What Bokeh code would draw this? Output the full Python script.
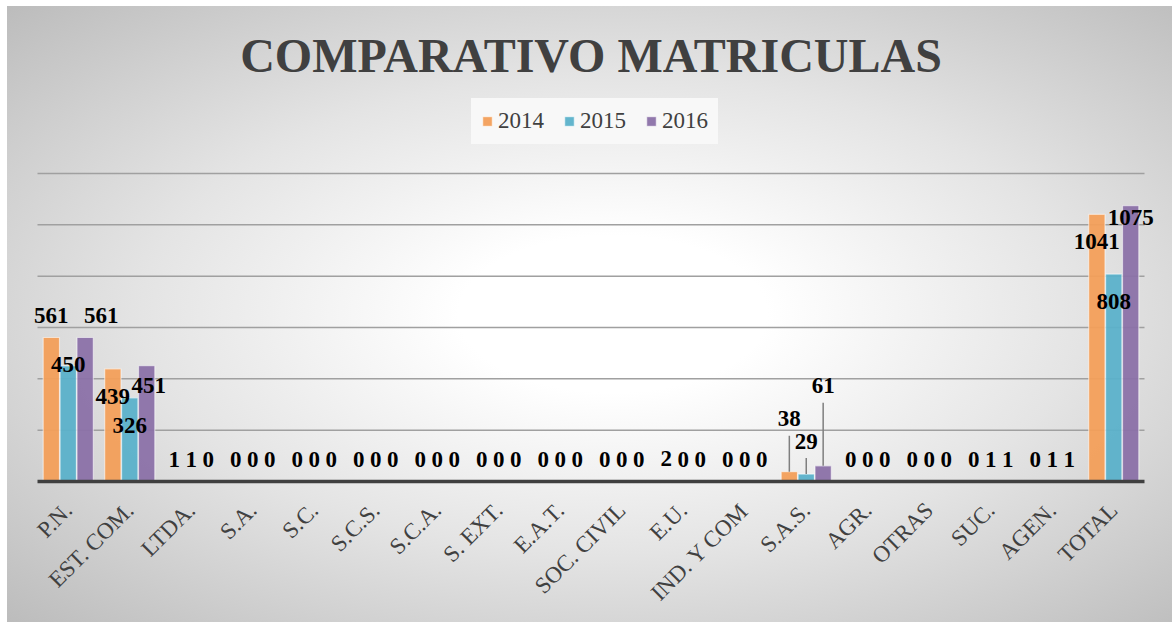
from math import pi
from bokeh.plotting import figure
from bokeh.models import (ColumnDataSource, FactorRange, Range1d,
                          LabelSet, Label, Legend, LegendItem)
from bokeh.transform import dodge
from bokeh.embed import file_html
from bokeh.resources import INLINE

categories = ["P.N.", "EST. COM.", "LTDA.", "S.A.", "S.C.", "S.C.S.", "S.C.A.",
              "S. EXT.", "E.A.T.", "SOC. CIVIL", "E.U.", "IND. Y COM", "S.A.S.",
              "AGR.", "OTRAS", "SUC.", "AGEN.", "TOTAL"]
years = ["2014", "2015", "2016"]
v2014 = [561, 439, 1, 0, 0, 0, 0, 0, 0, 0, 2, 0, 38, 0, 0, 0, 0, 1041]
v2015 = [450, 326, 1, 0, 0, 0, 0, 0, 0, 0, 0, 0, 29, 0, 0, 1, 1, 808]
v2016 = [561, 451, 0, 0, 0, 0, 0, 0, 0, 0, 0, 0, 61, 0, 0, 1, 1, 1075]
grid_ticks = [200, 400, 600, 800, 1000, 1200]
title_text = "COMPARATIVO MATRICULAS"

# styling / layout
colors = ["#F39F5A", "#5BB1CA", "#8B71A8"]
offsets = [-0.275, 0.0, 0.275]
BAR_W = 0.265
W, H = 1172, 622
CAT_PX = 61.5                    # width of one category in pixels
LEFT, SIDE_PAD = 9, 28           # frame starts at x=9, plot area padded 28px each side
BASE_Y = 481                     # pixel row of the zero line
BELOW = 3                        # frame extends 3px below the zero line
AXIS_SPAN_PX = 308               # pixels between 0 and 1200
Y_MAX = 1200
UPP = Y_MAX / AXIS_SPAN_PX       # data units per pixel
FRAME_H = BASE_Y + BELOW
DEFAULT_SHIFT = (0, 22)
# (dx, dy) pixel shifts of data labels measured from the top centre of the bar
label_shift = {("P.N.", "2015"): (0, 2), ("P.N.", "2016"): (16, 22),
               ("EST. COM.", "2014"): (0, -28), ("EST. COM.", "2015"): (0, -28),
               ("EST. COM.", "2016"): (2, -20),
               ("TOTAL", "2014"): (0, -27), ("TOTAL", "2015"): (0, -27),
               ("TOTAL", "2016"): (0, -12),
               ("S.A.S.", "2014"): (0, 53), ("S.A.S.", "2015"): (0, 33),
               ("S.A.S.", "2016"): (0, 80)}

xr = FactorRange(*categories, range_padding=SIDE_PAD / CAT_PX,
                 range_padding_units="absolute")
p = figure(width=W, height=H, x_range=xr,
           y_range=Range1d(-BELOW * UPP, BASE_Y * UPP),
           output_backend="svg", toolbar_location=None, title_location=None,
           min_border_left=LEFT, min_border_right=0,
           min_border_bottom=H - FRAME_H, min_border_top=0)
p.styles = {"background":
            "radial-gradient(ellipse farthest-corner at 52% 50%, #ffffff 0%, #ffffff 18%, "
            "#e4e4e4 55%, #bcbcbc 100%) 7px 6px / calc(100% - 7px) calc(100% - 6px) no-repeat, #ffffff"}
p.border_fill_alpha = 0
p.background_fill_alpha = 0
p.outline_line_color = None

# gridlines spanning the categories only
gsrc = ColumnDataSource(dict(a=[categories[0]] * len(grid_ticks),
                             b=[categories[-1]] * len(grid_ticks), y=grid_ticks))
p.segment(x0=dodge("a", -0.5, range=xr), y0="y", x1=dodge("b", 0.5, range=xr), y1="y",
          source=gsrc, line_color="#a0a0a0", line_width=1.5)

# title
p.add_layout(Label(x=len(categories) / 2, y=FRAME_H - 55, y_units="screen",
                   text=title_text, text_align="center", text_baseline="alphabetic",
                   text_font="Liberation Serif", text_font_style="bold",
                   text_font_size="48px", text_color="#404040"))

renderers = []
label_sets = []
for year, vals, col, off in zip(years, [v2014, v2015, v2016], colors, offsets):
    shifts = [label_shift.get((c, year), DEFAULT_SHIFT) for c in categories]
    src = ColumnDataSource(dict(cat=categories, val=vals,
                                txt=[str(v) for v in vals],
                                dx=[s[0] for s in shifts], dy=[s[1] for s in shifts]))
    r = p.vbar(x=dodge("cat", off, range=xr), top="val", width=BAR_W,
               source=src, fill_color=col, fill_alpha=0.95,
               line_color="#ffffff", line_alpha=0.55, line_width=1.2)
    renderers.append(r)
    far = [i for i, s in enumerate(shifts) if s[1] >= 30]
    if far:
        lsrc = ColumnDataSource(dict(cat=[categories[i] for i in far],
                                     y0=[vals[i] for i in far],
                                     y1=[vals[i] + (shifts[i][1] - 17) * UPP for i in far]))
        p.segment(x0=dodge("cat", off, range=xr), y0="y0",
                  x1=dodge("cat", off, range=xr), y1="y1",
                  source=lsrc, line_color="#7f7f7f", line_width=1.5)
    label_sets.append(LabelSet(x=dodge("cat", off, range=xr), y="val", text="txt",
                               x_offset="dx", y_offset="dy", source=src,
                               text_align="center", text_baseline="middle",
                               text_font="Liberation Serif", text_font_style="bold",
                               text_font_size="23px", text_color="#000000"))

# zero line
zsrc = ColumnDataSource(dict(a=[categories[0]], b=[categories[-1]], y=[0]))
p.segment(x0=dodge("a", -0.5, range=xr), y0="y", x1=dodge("b", 0.5, range=xr), y1="y",
          source=zsrc, line_color="#404040", line_width=3.5)

for ls in label_sets:
    p.add_layout(ls)

legend = Legend(items=[LegendItem(label=y, renderers=[r]) for y, r in zip(years, renderers)],
                orientation="horizontal", location=(480 - 9 - LEFT, FRAME_H - 144),
                label_text_font="Liberation Serif", label_text_font_size="23px",
                label_text_color="#404040", glyph_width=12, glyph_height=12,
                label_standoff=5, spacing=19, padding=9, margin=0,
                background_fill_color="#f8f8f8", background_fill_alpha=1,
                border_line_color="#f8f8f8", border_line_width=1)
p.add_layout(legend, "center")

p.yaxis.visible = False
p.ygrid.grid_line_color = None
p.xgrid.grid_line_color = None

p.xaxis.axis_line_color = None
p.xaxis.major_tick_line_color = None
p.xaxis.minor_tick_line_color = None
p.xaxis.major_label_orientation = pi / 4
p.xaxis.major_label_text_font = "Liberation Serif"
p.xaxis.major_label_text_font_size = "23px"
p.xaxis.major_label_text_color = "#404040"
p.xaxis.major_label_standoff = 16
p.x_range.group_padding = 0

open("out.html", "w").write(file_html(p, INLINE))
